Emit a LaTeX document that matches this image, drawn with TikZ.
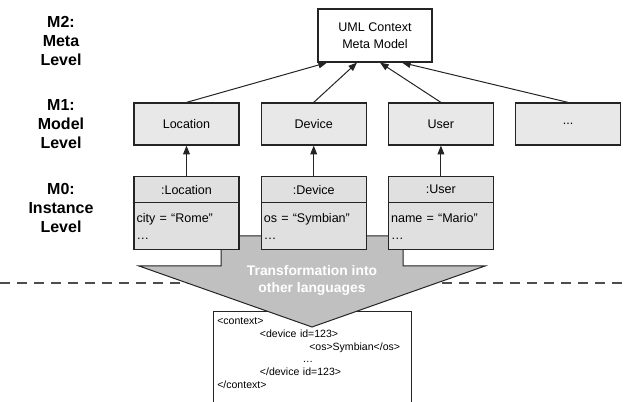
\documentclass[tikz,border=0pt]{standalone}
\usepackage{fontspec}
\setmainfont{Liberation Sans}
\usepackage{xcolor}
\definecolor{umlFill}{RGB}{232,232,232}
\definecolor{umlInst}{RGB}{224,224,224}
\definecolor{umlArrow}{RGB}{192,192,192}
\definecolor{umlLine}{RGB}{36,36,36}
\definecolor{umlDash}{RGB}{77,77,77}
\usepackage{tikz}
\usetikzlibrary{positioning,arrows.meta}

\begin{document}
\begin{tikzpicture}[x=0.75pt,y=-0.75pt,node distance=23.25pt and 15.75pt,
  lvl/.style={align=center,font=\fontsize{12}{14.3}\selectfont\bfseries},
  cls/.style={draw=umlLine,fill=umlFill,line width=0.9pt,minimum width=78.75pt,minimum height=31.5pt,inner sep=2pt,font=\fontsize{9.4}{12.75}\selectfont,align=center},
  meta/.style={cls,fill=white,minimum width=85.5pt,minimum height=39.75pt},
  ihead/.style={cls,fill=umlInst,minimum height=19.5pt,outer sep=0pt},
  ibody/.style={cls,fill=umlInst,minimum height=35.25pt,text width=74.75pt,align=left,outer sep=0pt},
  code/.style={align=left,text width=142.5pt,inner xsep=3pt,inner ysep=4pt,font=\fontsize{7.9}{9.6}\selectfont},
  a/.style={-{Triangle[length=6.5pt,width=5pt]},umlLine,line width=0.75pt}]
  \useasboundingbox (0,0) rectangle (624,402);
  \draw[umlDash,line width=1.5pt,dash pattern=on 7.5pt off 5.25pt] (0,283) -- (624,283);
  \node[lvl] (m2) at (61,41) {M2:\\Meta\\Level};
  \node[lvl] (m1) at (61,124) {M1:\\Model\\Level};
  \node[lvl] (m0) at (61,208) {M0:\\Instance\\Level};
  \node[code,anchor=north west] (xml) at (213,312) {{<}context{>}\\
    \hspace*{32pt}{<}device id=123{>}\\
    \hspace*{69pt}{<}os{>}Symbian{<}/os{>}\\
    \hspace*{64pt}…\\
    \hspace*{32pt}{<}/device id=123{>}\\
    {<}/context{>}};
  \coordinate (bot) at (0,402);
  \draw[umlLine,line width=0.75pt] (xml.north west |- bot) -- (xml.north west) -- (xml.north east) -- (xml.north east |- bot);
  \draw[umlLine,fill=umlArrow,line width=0.75pt] (221,236) -- (221,266) -- (139,266) -- (312,327) -- (485,266) -- (403,266) -- (403,236) -- cycle;
  \node[text=white,align=center,font=\fontsize{10.4}{12.75}\selectfont\bfseries] (tr) at (312,280.5) {Transformation into\\other languages};
  \node[meta] (mm) at (375,35.5) {UML Context\\Meta Model};
  \node[cls] (loc) at (186.5,124) {Location};
  \node[cls,right=of loc] (dev) {Device};
  \node[cls,right=of dev] (usr) {User};
  \node[cls,right=of usr] (more) {...};
  \node[ihead,below=of loc] (locH) {:Location};
  \node[ibody,below=0pt of locH] (locB) {city = “Rome”\\…};
  \node[ihead,below=of dev] (devH) {:Device};
  \node[ibody,below=0pt of devH] (devB) {os = “Symbian”\\…};
  \node[ihead,below=of usr] (usrH) {:User};
  \node[ibody,below=0pt of usrH] (usrB) {name = “Mario”\\…};
  \draw[a] (loc.north) -- ([xshift=-36pt]mm.south);
  \draw[a] (dev.north) -- ([xshift=-13.5pt]mm.south);
  \draw[a] (usr.north) -- ([xshift=3.75pt]mm.south);
  \draw[a] (more.north) -- ([xshift=20.25pt]mm.south);
  \draw[a] (locH) -- (loc);
  \draw[a] (devH) -- (dev);
  \draw[a] (usrH) -- (usr);
\end{tikzpicture}
\end{document}
